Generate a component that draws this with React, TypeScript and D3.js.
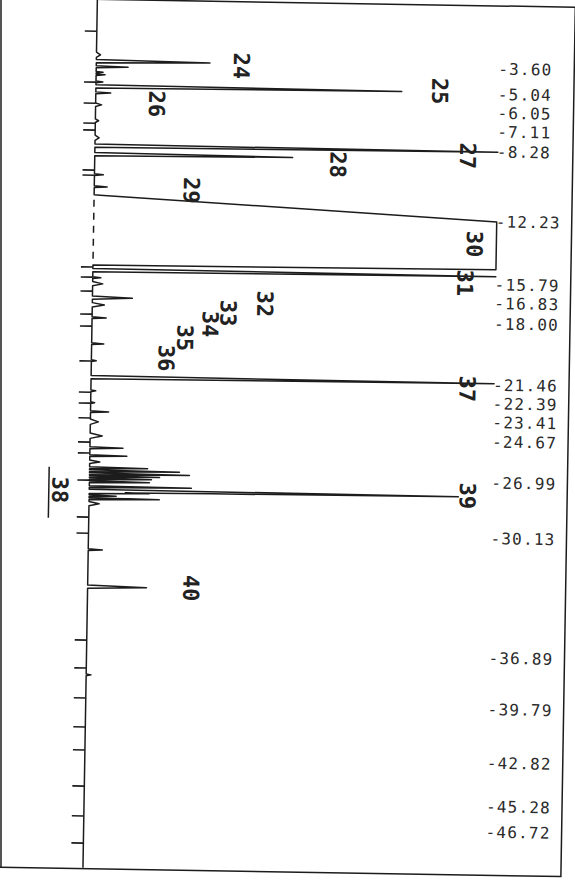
import React from 'react';
import * as d3 from 'd3';

const W = 575;
const H = 891;
const FS = 1000; // full scale of the recorder, mV
const T_END = 49.1; // minutes covered by the strip

// main peaks: [retention time (min), height (mV)]
const mainPeaks: [number, number][] = [
  [3.52, 282], [4.95, 759], [8.3, 1000], [8.78, 491], [15.33, 1000],
  [16.89, 99], [21.38, 1000], [27.8, 916], [33.22, 146],
];

// small peaks and bumps: [time, height, half width]
const minorPeaks: [number, number, number][] = [
  [3.16, 10, 0.15], [3.84, 79, 0.05], [4.15, 17, 0.04], [4.29, 22, 0.04],
  [4.69, 17, 0.05], [5.31, 37, 0.05], [5.99, 15, 0.1], [6.89, 8, 0.1],
  [7.85, 10, 0.15], [9.94, 22, 0.05], [10.62, 32, 0.05], [15.76, 20, 0.05],
  [16.1, 25, 0.12], [17.29, 30, 0.12], [18.02, 35, 0.05], [19.49, 30, 0.05],
  [20.45, 12, 0.05], [22.15, 12, 0.05], [22.82, 10, 0.05], [23.33, 45, 0.05],
  [23.9, 20, 0.15], [24.69, 30, 0.15], [25.37, 82, 0.05], [25.82, 92, 0.05],
  [26.16, 25, 0.1], [26.5, 144, 0.05], [26.67, 223, 0.05], [26.84, 248, 0.05],
  [26.98, 174, 0.05], [27.12, 154, 0.05], [27.29, 149, 0.05], [27.57, 253, 0.05],
  [27.91, 149, 0.05], [28.08, 67, 0.05], [28.25, 174, 0.05], [28.53, 25, 0.12],
  [31.13, 35, 0.05], [38.2, 12, 0.05],
];

// off-scale peak 30 (ramp, then pen held at full scale)
const peak30Trace: [number, number][] = [
  [11.07, 0], [11.09, 15], [12.24, 1000], [14.94, 1000], [15.05, 0],
];

const retentionTimes = [
  3.6, 5.04, 6.05, 7.11, 8.28, 12.23, 15.79, 16.83, 18.0, 21.46, 22.39,
  23.41, 24.67, 26.99, 30.13, 36.89, 39.79, 42.82, 45.28, 46.72,
];

const eventTicks = [
  1.83, 4.71, 5.9, 7.03, 7.42, 9.68, 9.97, 15.16, 15.73, 16.52, 17.82, 18.5,
  20.47, 22.23, 22.85, 23.69, 25.05, 25.67, 27.2, 29.29, 30.2, 36.24, 37.82,
  39.51, 41.15, 42.45, 44.49, 46.18, 47.71,
];

const peakNumbers = ['24', '25', '26', '27', '28', '29', '30', '31', '32', '33', '34', '35', '36', '37', '38', '39', '40'];
const peakLabelTime = [3.66, 4.89, 5.88, 8.53, 9.15, 10.73, 13.5, 15.7, 17.08, 17.63, 18.27, 19.08, 20.23, 21.69, 27.78, 27.74, 33.2];
const peakLabelLevel = [360, 853, 151, 925, 603, 241, 945, 923, 428, 337, 293, 231, 185, 933, -73, 938, 256];
const underlined = ['38'];

const MAIN_W = 0.09;
const RT_FONT = 16;
const RT_GAP = 18.7; // minimum spacing of stacked retention-time labels

function buildTrace() {
  const tri = [
    ...mainPeaks.map(([t, h]) => ({ t, h, w: MAIN_W })),
    ...minorPeaks.map(([t, h, w]) => ({ t, h, w })),
  ];
  const boxT = peak30Trace.map((d) => d[0]);
  const boxS = peak30Trace.map((d) => d[1]);
  const box = d3.scaleLinear().domain(boxT).range(boxS);
  const boxFn = (t: number) => (t <= boxT[0] || t >= boxT[boxT.length - 1] ? 0 : box(t));
  const signal = (t: number) =>
    Math.min(FS, d3.sum(tri, (p) => Math.max(0, p.h * (1 - Math.abs(t - p.t) / p.w))) + boxFn(t));
  const ts = Array.from(
    new Set([0, T_END, ...tri.flatMap((p) => [p.t - p.w, p.t, p.t + p.w]), ...boxT])
  ).sort((a, b) => a - b);
  return ts.map((t) => ({ t, s: signal(t) }));
}

export default function App() {
  const x = d3.scaleLinear().domain([0, FS]).range([90, 493]);
  const y = d3.scaleLinear().domain([0, T_END]).range([2, 871]);

  const trace = buildTrace();
  const line = d3
    .line<{ t: number; s: number }>()
    .x((d) => x(d.s))
    .y((d) => y(d.t));

  // stack retention labels like the printer does: push down when crowded
  const rtY: number[] = [];
  retentionTimes.forEach((t, i) => {
    const want = y(t);
    rtY.push(i === 0 ? want : Math.max(want, rtY[i - 1] + RT_GAP));
  });

  const ink = '#1c1c1c';
  const mono = "'DejaVu Sans Mono', monospace";

  return (
    <div style={{ position: 'absolute', left: 0, top: 0 }}>
      <svg width={W} height={H} style={{ display: 'block', background: '#fff' }}>
        {/* scan edge on the left */}
        <line x1={1} x2={1} y1={0} y2={867} stroke={ink} strokeWidth={1.5} />

        <g transform="rotate(0.95 287 445)">
          {/* page frame: top, right, bottom */}
          <path d="M-10,2.5H568V872H-10" fill="none" stroke={ink} strokeWidth={1.5} />

          {/* baseline under the off-scale region */}
          <line
            x1={x(0)} x2={x(0)}
            y1={y(peak30Trace[0][0]) + 5}
            y2={y(peak30Trace[peak30Trace.length - 1][0]) - 2}
            stroke={ink} strokeWidth={1.5} strokeDasharray="7 6"
          />

          {/* integrator event marks */}
          {eventTicks.map((t, i) => (
            <line key={i} x1={x(0) - 12} x2={x(0)} y1={y(t)} y2={y(t)} stroke={ink} strokeWidth={1.6} />
          ))}

          {/* chromatogram trace */}
          <path d={line(trace) || ''} fill="none" stroke={ink} strokeWidth={1.5} strokeLinejoin="round" />

          {/* retention times */}
          {retentionTimes.map((t, i) => (
            <text
              key={i} x={x(FS) - 1} y={rtY[i]} dominantBaseline="central"
              fontFamily={mono} fontSize={RT_FONT} letterSpacing={1.2} fill="#2a2a2a"
            >
              {'-' + t.toFixed(2)}
            </text>
          ))}

          {/* peak numbers */}
          {peakNumbers.map((n, i) => (
            <g key={n} transform={`translate(${x(peakLabelLevel[i])},${y(peakLabelTime[i])}) rotate(90)`}>
              <text
                textAnchor="middle" dominantBaseline="central"
                fontFamily={mono} fontWeight="bold" fontSize={22} fill="#222"
              >
                {n}
              </text>
              {underlined.includes(n) && (
                <line x1={-23} x2={28} y1={11} y2={11} stroke={ink} strokeWidth={1.5} />
              )}
            </g>
          ))}
        </g>
      </svg>
    </div>
  );
}
